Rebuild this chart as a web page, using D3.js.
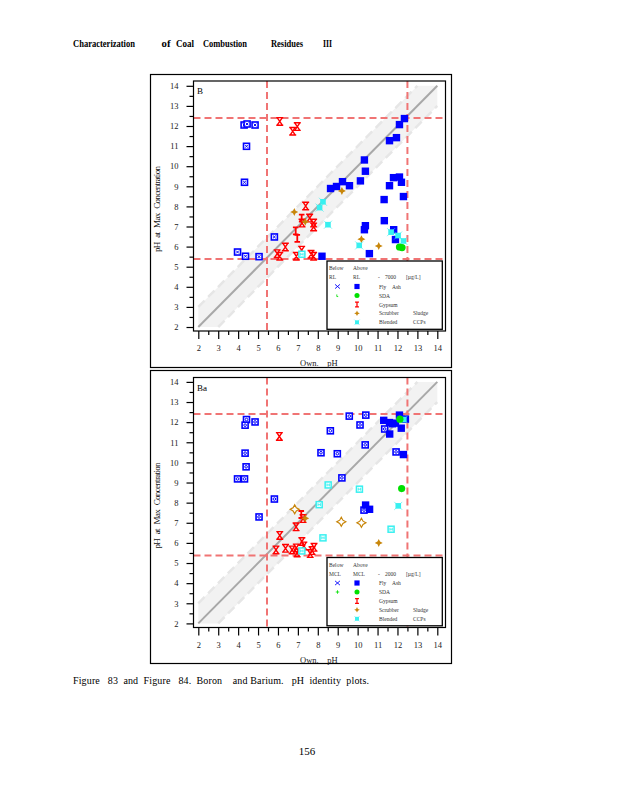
<!DOCTYPE html>
<html>
<head>
<meta charset="utf-8">
<script src="https://cdn.jsdelivr.net/npm/d3@7"></script>
<style>
  body { margin: 0; background: #fff; }
  svg { display: block; }
  text { font-family: "Liberation Serif", "Times New Roman", serif; }
</style>
</head>
<body>
<svg id="page" width="618" height="800"></svg>
<script>
// axis values
const majorTicks = [2, 3, 4, 5, 6, 7, 8, 9, 10, 11, 12, 13, 14];
const minorTicks = [2.5, 3.5, 4.5, 5.5, 6.5, 7.5, 8.5, 9.5, 10.5, 11.5, 12.5, 13.5];
const limitX = [5.45, 12.5];
const limitY = [5.38, 12.4];

// Boron (Figure 83) - [own pH, pH at max concentration]
const boronFlyAshBelow = [[4.3, 12.05], [4.45, 12.1], [4.85, 12.05], [4.42, 10.99], [4.32, 9.2],
  [5.82, 6.48], [3.97, 5.73], [4.37, 5.52], [5.05, 5.5]];
const boronFlyAshAbove = [[8.64, 8.89], [8.94, 8.99], [9.24, 9.23], [9.59, 9.03], [10.14, 9.27],
  [10.39, 9.75], [10.34, 10.31], [11.6, 11.27], [11.95, 11.42], [12.1, 12.07], [12.35, 12.37],
  [11.8, 9.43], [12.1, 9.46], [11.6, 9.03], [12.2, 9.2], [11.33, 8.34], [12.3, 8.49], [11.34, 7.29],
  [10.39, 7.04], [10.34, 6.84], [10.59, 5.65], [11.81, 6.84], [11.9, 6.35], [8.21, 5.52]];
const boronSdaAbove = [[12.1, 5.98], [12.23, 5.95]];
const boronGypsumBelow = [[6.09, 12.23], [6.74, 11.74], [6.97, 11.97], [7.39, 8.02], [7.59, 7.42],
  [7.21, 7.17], [7.79, 7.17], [7.79, 6.98], [6.37, 5.98], [5.96, 5.65], [6.09, 5.52], [6.92, 5.52],
  [7.19, 5.82], [7.66, 5.62], [7.79, 5.52]];
const boronGypsumAbove = [[7.19, 7.42], [6.89, 6.78], [6.97, 6.41]];
const boronScrubberAbove = [[6.82, 7.72], [7.37, 7.24], [9.21, 8.77], [10.19, 6.37], [11.06, 6.03]];
const boronBlendedBelow = [[7.2, 5.62]];
const boronBlendedAbove = [[8.26, 8.23], [8.09, 7.94], [8.51, 7.09], [10.08, 6.06], [11.68, 6.72],
  [12.03, 6.55], [12.3, 6.28]];

// Barium (Figure 84)
const bariumFlyAshBelow = [[4.42, 12.13], [4.35, 11.85], [4.85, 12.01], [4.35, 10.46], [4.4, 9.78],
  [3.97, 9.18], [4.32, 9.18], [5.82, 8.18], [5.05, 7.29], [9.58, 12.3], [10.41, 12.35], [10.12, 11.86],
  [8.63, 11.57], [10.38, 10.87], [8.16, 10.48], [8.98, 10.43], [9.21, 9.23], [11.36, 11.66],
  [11.93, 10.52], [10.32, 7.63]];
const bariumFlyAshAbove = [[11.31, 12.09], [11.6, 11.98], [11.75, 11.92], [11.9, 11.95], [12.1, 12.35],
  [12.19, 11.7], [11.61, 11.41], [12.3, 10.39], [12.4, 12.15], [10.4, 7.88], [10.6, 7.67]];
const bariumSdaAbove = [[12.12, 12.15], [12.21, 8.7]];
const bariumGypsumBelow = [[6.07, 11.29], [7.26, 7.21], [6.91, 6.8], [6.09, 6.37], [5.9, 5.65],
  [6.38, 5.73], [6.71, 5.65], [6.92, 5.75], [6.96, 5.5], [7.2, 6.07], [7.3, 5.85], [7.71, 5.62],
  [7.62, 5.47], [7.81, 5.78]];
const bariumGypsumAbove = [[7.17, 7.41]];
const bariumScrubberBelow = [[6.84, 7.67], [9.18, 7.05], [10.19, 7.0]];
const bariumScrubberAbove = [[7.37, 7.22], [11.06, 6.0]];
const bariumBlendedBelow = [[8.52, 8.88], [10.09, 8.67], [8.07, 7.9], [8.26, 6.25], [11.68, 6.68], [7.2, 5.6]];
const bariumBlendedAbove = [[12.04, 7.84], [12.32, 12.13]];

// legend
const legendRows = [["Fly", "Ash"], ["SDA", ""], ["Gypsum", ""], ["Scrubber", "Sludge"], ["Blended", "CCPs"]];

const BLUE = "#0000ff", RED = "#ff0000", ORANGE = "#c8860a", CYAN = "#38f0f0", GREEN = "#00e000";

const svg = d3.select("#page");

// marker shapes
function marker(g, kind, inner) {
  if (kind === "sqFill") {
    g.append("rect").attr("x", -3.7).attr("y", -3.7).attr("width", 7.4).attr("height", 7.4).attr("fill", BLUE);
  } else if (kind === "sqOpen") {
    g.append("rect").attr("x", -3).attr("y", -3).attr("width", 6).attr("height", 6)
      .attr("fill", "#fff").attr("stroke", BLUE).attr("stroke-width", 1.6);
    if (inner === "x") {
      g.append("path").attr("d", "M-1.4,-1.4L1.4,1.4M1.4,-1.4L-1.4,1.4").attr("stroke", BLUE).attr("stroke-width", 1);
    } else {
      g.append("circle").attr("r", 1.3).attr("fill", "none").attr("stroke", BLUE).attr("stroke-width", 1);
    }
  } else if (kind === "hourglass") {
    g.append("path").attr("d", "M-3.5,-3.8H3.5M-3.5,3.8H3.5M-2.6,-3.8L2.6,3.8M2.6,-3.8L-2.6,3.8")
      .attr("fill", "none").attr("stroke", RED).attr("stroke-width", 1.4);
  } else if (kind === "ibeam") {
    g.append("path").attr("d", "M-2.8,-3.5H2.8M-2.8,3.5H2.8M0,-3.5V3.5")
      .attr("fill", "none").attr("stroke", RED).attr("stroke-width", 1.8);
  } else if (kind === "starFill") {
    g.append("path").attr("d", "M0,-4L1.3,-1.3L4,0L1.3,1.3L0,4L-1.3,1.3L-4,0L-1.3,-1.3Z").attr("fill", ORANGE);
  } else if (kind === "starOpen") {
    g.append("path").attr("d", "M0,-4.5L1.6,-1.6L4.5,0L1.6,1.6L0,4.5L-1.6,1.6L-4.5,0L-1.6,-1.6Z")
      .attr("fill", "#fff").attr("stroke", ORANGE).attr("stroke-width", 1.2);
  } else if (kind === "cyanFill") {
    g.append("rect").attr("x", -2.8).attr("y", -2.8).attr("width", 5.6).attr("height", 5.6).attr("fill", CYAN);
    g.append("path").attr("d", "M-4,-4L4,4M4,-4L-4,4").attr("stroke", CYAN).attr("stroke-width", 1).attr("opacity", 0.6);
  } else if (kind === "cyanOpen") {
    g.append("rect").attr("x", -3).attr("y", -3).attr("width", 6).attr("height", 6)
      .attr("fill", "#fff").attr("stroke", CYAN).attr("stroke-width", 1.5);
    g.append("path").attr("d", "M-1.2,-1.5V1.5M1.2,-1.5V1.5M-1.2,0H1.2").attr("stroke", CYAN).attr("stroke-width", 0.9);
  } else if (kind === "circFill") {
    g.append("circle").attr("r", 3.6).attr("fill", GREEN);
  } else if (kind === "cross") {
    g.append("path").attr("d", "M-3.5,-3L3.5,3M3.5,-3L-3.5,3").attr("stroke", BLUE).attr("stroke-width", 1.3);
  } else if (kind === "plus") {
    g.append("path").attr("d", "M-2.5,0H2.5M0,-2.5V2.5").attr("stroke", GREEN).attr("stroke-width", 1.2);
  } else if (kind === "tick") {
    g.append("path").attr("d", "M-1,-1.5V1.5H1").attr("fill", "none").attr("stroke", GREEN).attr("stroke-width", 1.2);
  }
}

const panels = [
  { label: "B", oy: 0, yTop: 85.8, yBot: 327, mcl: "RL", limit: "7000", inner: "x", tick: "tick",
    series: [
      [boronFlyAshBelow, "sqOpen"], [boronFlyAshAbove, "sqFill"],
      [boronGypsumBelow, "hourglass"], [boronGypsumAbove, "ibeam"],
      [boronScrubberAbove, "starFill"], [boronBlendedBelow, "cyanOpen"],
      [boronBlendedAbove, "cyanFill"], [boronSdaAbove, "circFill"]] },
  { label: "Ba", oy: 296.5, yTop: 381.9, yBot: 623.4, mcl: "MCL", limit: "2000", inner: "o", tick: "plus",
    series: [
      [bariumFlyAshBelow, "sqOpen"], [bariumFlyAshAbove, "sqFill"],
      [bariumGypsumBelow, "hourglass"], [bariumGypsumAbove, "ibeam"],
      [bariumScrubberBelow, "starOpen"], [bariumScrubberAbove, "starFill"],
      [bariumBlendedBelow, "cyanOpen"], [bariumBlendedAbove, "cyanFill"], [bariumSdaAbove, "circFill"]] }
];

const frameL = 193.5, frameR = 445.5;
const x = d3.scaleLinear().domain([2, 14]).range([198.3, 437.3]);

panels.forEach(p => {
  const y = d3.scaleLinear().domain([2, 14]).range([p.yBot, p.yTop]);
  const top = 81 + p.oy, bot = 331 + p.oy;

  // outer box
  svg.append("rect").attr("x", 150.5).attr("y", 74.5 + p.oy - (p.oy ? 0.5 : 0))
    .attr("width", 301).attr("height", 293).attr("fill", "none").attr("stroke", "#000").attr("stroke-width", 1.2);

  const plot = svg.append("g");
  const clipId = "clip" + p.label;
  svg.append("clipPath").attr("id", clipId).append("rect")
    .attr("x", frameL).attr("y", top).attr("width", frameR - frameL).attr("height", bot - top);
  plot.attr("clip-path", `url(#${clipId})`);

  // identity band (+/- 1 pH)
  const band = [[2, 2], [2, 3], [13, 14], [14, 14], [14, 13], [3, 2]];
  plot.append("path").attr("d", d3.line().x(d => x(d[0])).y(d => y(d[1]))(band) + "Z").attr("fill", "#f2f2f2");
  [[[2, 3], [13, 14]], [[3, 2], [14, 13]]].forEach(s => {
    plot.append("line").attr("x1", x(s[0][0])).attr("y1", y(s[0][1])).attr("x2", x(s[1][0])).attr("y2", y(s[1][1]))
      .attr("stroke", "#e6e6e6").attr("stroke-width", 2.5).attr("stroke-dasharray", "9,5");
  });
  plot.append("line").attr("x1", x(2)).attr("y1", y(2)).attr("x2", x(14)).attr("y2", y(14))
    .attr("stroke", "#a8a8a8").attr("stroke-width", 2);

  // limit lines
  limitX.forEach(v => plot.append("line").attr("x1", x(v)).attr("x2", x(v)).attr("y1", top).attr("y2", bot)
    .attr("stroke", "#f07474").attr("stroke-width", 2).attr("stroke-dasharray", "7,4"));
  limitY.forEach(v => plot.append("line").attr("x1", frameL).attr("x2", frameR).attr("y1", y(v)).attr("y2", y(v))
    .attr("stroke", "#f07474").attr("stroke-width", 2).attr("stroke-dasharray", "7,4"));

  // points
  p.series.forEach(([pts, kind]) => {
    plot.selectAll(null).data(pts).enter().append("g")
      .attr("transform", d => `translate(${x(d[0])},${y(d[1])})`)
      .each(function () { marker(d3.select(this), kind, p.inner); });
  });

  // frame
  svg.append("rect").attr("x", frameL).attr("y", top).attr("width", frameR - frameL).attr("height", bot - top)
    .attr("fill", "none").attr("stroke", "#000").attr("stroke-width", 1.2);

  // axes
  const yAxis = svg.append("g").attr("transform", `translate(${frameL},0)`)
    .call(d3.axisLeft(y).tickValues(majorTicks).tickSize(7).tickPadding(8).tickFormat(d3.format("d")));
  svg.append("g").attr("transform", `translate(${frameL},0)`)
    .call(d3.axisLeft(y).tickValues(minorTicks).tickSize(4).tickFormat(""));
  const xAxis = svg.append("g").attr("transform", `translate(0,${bot})`)
    .call(d3.axisBottom(x).tickValues(majorTicks).tickSize(8).tickPadding(6).tickFormat(d3.format("d")));
  svg.append("g").attr("transform", `translate(0,${bot})`)
    .call(d3.axisBottom(x).tickValues(minorTicks).tickSize(4).tickFormat(""));
  svg.selectAll(".domain").remove();
  svg.selectAll(".tick line").attr("stroke", "#000").attr("stroke-width", 1.2);
  [yAxis, xAxis].forEach(a => a.selectAll("text")
    .attr("font-family", "Liberation Serif").attr("font-size", 8.5).attr("fill", "#222"));

  // titles
  svg.append("text").attr("x", 197).attr("y", 94 + p.oy).attr("font-size", 9).text(p.label);
  svg.append("text").attr("x", 300).attr("y", 366 + p.oy).attr("font-size", 8.5).attr("fill", "#222")
    .attr("xml:space", "preserve").text("Own.    pH");
  svg.append("text").attr("transform", `translate(160,${209 + p.oy}) rotate(-90)`).attr("text-anchor", "middle")
    .attr("font-size", 9).attr("fill", "#111").attr("textLength", 86).attr("lengthAdjust", "spacing")
    .attr("xml:space", "preserve").text("pH   at   Max   Concentration");

  // legend
  const lg = svg.append("g").attr("transform", `translate(327,${261 + p.oy})`);
  lg.append("rect").attr("width", 115.3).attr("height", 68.3).attr("fill", "#fff")
    .attr("stroke", "#000").attr("stroke-width", 1.3);
  const t = (tx, ty, s) => lg.append("text").attr("x", tx).attr("y", ty).attr("font-size", 5.5)
    .attr("fill", "#333").text(s);
  t(2, 9, "Below"); t(26, 9, "Above");
  t(2, 18, p.mcl); t(26, 18, p.mcl);
  t(51, 18, "-"); t(58, 18, p.limit); t(79, 18, "[\u00b5g/L]");
  const rowY = [25.5, 34.5, 43.5, 52.3, 61.3];
  const aboveKinds = ["sqFill", "circFill", "ibeam", "starFill", "cyanFill"];
  legendRows.forEach((r, i) => {
    t(52, rowY[i] + 2, r[0]);
    if (r[1]) t(i === 0 ? 65 : 86, rowY[i] + 2, r[1]);
    const ga = lg.append("g").attr("transform", `translate(30,${rowY[i]}) scale(0.7)`);
    marker(ga, aboveKinds[i]);
  });
  marker(lg.append("g").attr("transform", `translate(10.5,${rowY[0]}) scale(0.7)`), "cross");
  marker(lg.append("g").attr("transform", `translate(10.5,${rowY[1]}) scale(0.7)`), p.tick);
});

// page text
const header = [["Characterization", 73, 62], ["of", 161.5, 9], ["Coal", 176, 18], ["Combustion", 203, 44],
  ["Residues", 271, 32], ["III", 323, 9]];
header.forEach(h => svg.append("text").attr("x", h[1]).attr("y", 47).attr("font-size", 10).attr("font-weight", "bold")
  .attr("textLength", h[2]).attr("lengthAdjust", "spacingAndGlyphs").text(h[0]));

svg.append("text").attr("x", 73).attr("y", 684).attr("font-size", 10).attr("xml:space", "preserve")
  .attr("textLength", 296).attr("lengthAdjust", "spacing")
  .text("Figure   83  and  Figure   84.  Boron    and Barium.   pH  identity  plots.");

svg.append("text").attr("x", 307).attr("y", 755).attr("text-anchor", "middle").attr("font-size", 11).text("156");
</script>
</body>
</html>
